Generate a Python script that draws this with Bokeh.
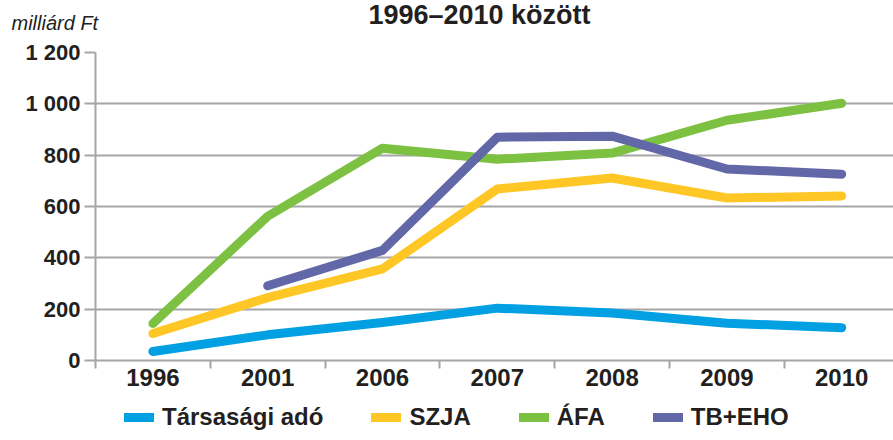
from bokeh.plotting import figure
from bokeh.models import Range1d, FixedTicker, Legend, LegendItem, Label
from bokeh.layouts import column
from bokeh.embed import file_html
from bokeh.resources import INLINE

years = ["1996", "2001", "2006", "2007", "2008", "2009", "2010"]
tarsasagi = [35, 100, 148, 204, 185, 145, 128]
szja = [105, 245, 357, 668, 711, 633, 641]
afa = [144, 562, 827, 784, 808, 936, 1002]
tbeho = [None, 291, 429, 870, 874, 746, 726]
series_names = ["Társasági adó", "SZJA", "ÁFA", "TB+EHO"]
colors = ["#00A0E3", "#FFC726", "#7DC142", "#6267A8"]
y_ticks = [0, 200, 400, 600, 800, 1000, 1200]
y_tick_labels = ["0", "200", "400", "600", "800", "1 000", "1 200"]
title_text = "1996–2010 között"
unit_text = "milliárd Ft"

FONT = "Liberation Sans"
GRID = "#A6A6A6"
TXT = "#231F20"
W = 893

xs = list(range(len(years)))
p = figure(width=W, height=396, output_backend="svg", toolbar_location=None,
           x_range=Range1d(-0.5, 6.451), y_range=Range1d(0, 1200))
p.min_border_left = 95
p.min_border_right = 0
p.min_border_top = 51
p.min_border_bottom = 36
p.outline_line_color = None

p.yaxis.ticker = FixedTicker(ticks=y_ticks)
p.yaxis.major_label_overrides = {t: l for t, l in zip(y_ticks, y_tick_labels)}
p.yaxis.major_label_text_font = FONT
p.yaxis.major_label_text_font_style = "bold"
p.yaxis.major_label_text_font_size = "22px"
p.yaxis.major_label_text_color = TXT
p.yaxis.axis_line_color = GRID
p.yaxis.axis_line_width = 2
p.yaxis.major_tick_line_color = GRID
p.yaxis.major_tick_line_width = 2
p.yaxis.major_tick_out = 11
p.yaxis.major_tick_in = 0
p.yaxis.minor_tick_line_color = None
p.yaxis.major_label_standoff = 4

bounds = [i - 0.5 for i in range(len(years) + 1)]
p.xaxis.ticker = FixedTicker(ticks=xs, minor_ticks=bounds)
p.xaxis.major_label_overrides = {i: y for i, y in enumerate(years)}
p.xaxis.major_label_text_font = FONT
p.xaxis.major_label_text_font_style = "bold"
p.xaxis.major_label_text_font_size = "24px"
p.xaxis.major_label_text_color = TXT
p.xaxis.axis_line_color = GRID
p.xaxis.axis_line_width = 2
p.xaxis.major_tick_line_color = None
p.xaxis.major_tick_out = 6
p.xaxis.minor_tick_line_color = GRID
p.xaxis.minor_tick_line_width = 2
p.xaxis.minor_tick_out = 8
p.xaxis.minor_tick_in = 0
p.xaxis.major_label_standoff = 0

p.xgrid.grid_line_color = None
p.ygrid.ticker = FixedTicker(ticks=y_ticks)
p.ygrid.grid_line_color = GRID
p.ygrid.grid_line_width = 2

for name, vals, c in zip(series_names, [tarsasagi, szja, afa, tbeho], colors):
    xx = [x for x, v in zip(xs, vals) if v is not None]
    yy = [v for v in vals if v is not None]
    p.line(xx, yy, line_color=c, line_width=9, line_cap="round",
           line_join="round")

# unit label (inner row of the top border) and title (outer row)
p.add_layout(Label(x=-84, y=30, x_units="screen", y_units="screen",
                   text=unit_text, text_font=FONT, text_font_style="italic",
                   text_font_size="20px", text_color=TXT,
                   text_align="left", text_baseline="middle"), "above")
p.add_layout(Label(x=384, y=16, x_units="screen", y_units="screen",
                   text=title_text, text_font=FONT, text_font_style="bold",
                   text_font_size="27px", text_color=TXT,
                   text_align="center", text_baseline="middle"), "above")

# ---------- legend strip ----------
lg = figure(width=W, height=44, output_backend="svg", toolbar_location=None,
            x_range=Range1d(0, 1), y_range=Range1d(0, 1),
            x_axis_location=None, y_axis_location=None)
lg.min_border_left = 95
lg.min_border_right = 0
lg.min_border_top = 0
lg.min_border_bottom = 0
lg.grid.visible = False
lg.outline_line_color = None

nan = float("nan")
swatches = []
for name, c in zip(series_names, colors):
    r = lg.line(x=[nan], y=[nan], line_color=c, line_width=9, line_cap="round")
    swatches.append(r)

legend = Legend(items=[LegendItem(label=n, renderers=[r])
                       for n, r in zip(series_names, swatches)],
                location=(29, 9), orientation="horizontal",
                border_line_color=None, background_fill_alpha=0,
                label_text_font=FONT, label_text_font_style="bold",
                label_text_font_size="24px", label_text_color=TXT,
                glyph_width=30, glyph_height=20, label_standoff=8,
                padding=0, margin=0, spacing=48)
lg.add_layout(legend, "center")

layout = column(p, lg, spacing=0)
open("out.html", "w").write(file_html(layout, INLINE))
